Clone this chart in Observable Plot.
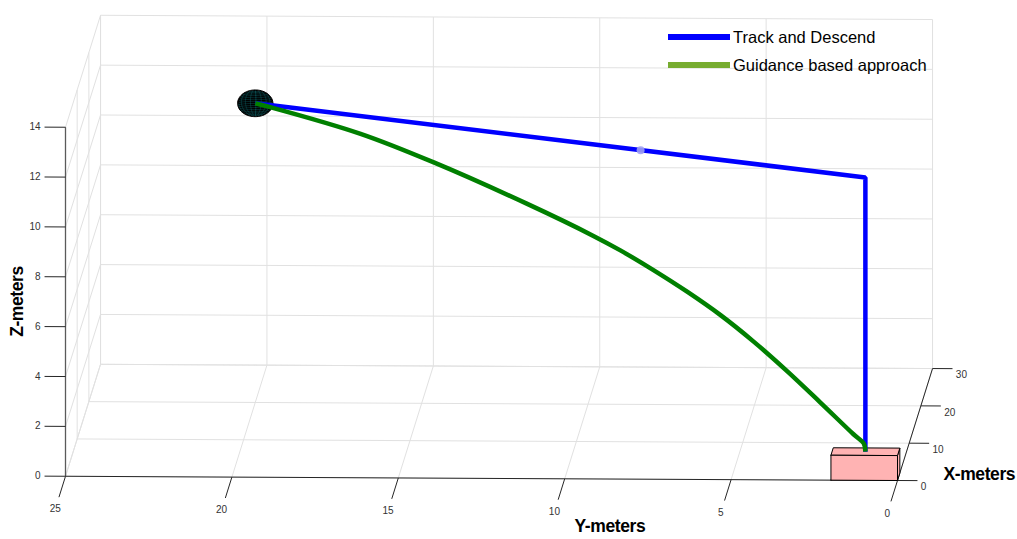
<!DOCTYPE html>
<html>
<head>
<meta charset="utf-8">
<script src="https://cdn.jsdelivr.net/npm/d3@7"></script>
<script src="https://cdn.jsdelivr.net/npm/@observablehq/plot@0.6"></script>
<style>
  html, body { margin: 0; padding: 0; background: #fff; }
  #chart { position: relative; width: 1017px; height: 539px;
           font-family: "Liberation Sans", Arial, Helvetica, sans-serif; }
  .legend { position: absolute; left: 668px; top: 23px; }
  .legend .row { display: flex; align-items: center; height: 28px; }
  .legend .sw { width: 62px; height: 5.5px; margin-right: 3px; }
  .legend .lb { font-size: 16.5px; line-height: 20px; color: #000; white-space: nowrap; }
</style>
</head>
<body>
<div id="chart"></div>
<script>
// ---------------- data (metres) ----------------
const yTicks = [0, 5, 10, 15, 20, 25];
const xTicks = [0, 10, 20, 30];
const zTicks = [0, 2, 4, 6, 8, 10, 12, 14];

const targetPos = [20, 20, 12];          // tracked target (sphere centre)
const dronePos  = [8, 8, 12];            // marker on the track path

// Track and Descend: fly level to above the pad, then drop vertically
const trackX = [20, 1, 1];
const trackY = [20, 1, 1];
const trackZ = [12, 12, 1];

// Guidance based approach: curved descent onto the pad
const guideX = [20, 19.53, 16.72, 14.44, 11.53, 9.47, 8.63, 7.6, 6.54, 5.51, 4.48, 3.43, 2.4, 1.37, 1.05, 1];
const guideY = [20, 19.53, 16.72, 14.44, 11.53, 9.47, 8.63, 7.6, 6.54, 5.51, 4.48, 3.43, 2.4, 1.37, 1.05, 1];
const guideZ = [12, 11.92, 11.29, 10.5, 9.29, 8.33, 7.88, 7.25, 6.54, 5.77, 4.87, 3.84, 2.75, 1.64, 1.32, 1];

// landing pad box extents
const padX = [0, 2];
const padY = [0, 2];
const padZ = [0, 1];

const seriesNames = ["Track and Descend", "Guidance based approach"];
const seriesColors = ["#0000ff", "#77ac30"];

// ---------------- view ----------------
// axonometric view: plane coordinates (u, v) from world (X, Y, Z)
const proj = { u: [0.0351, -1, 0], v: [0.1497, 0.0068, 1] };
const U = (X, Y, Z) => proj.u[0] * X + proj.u[1] * Y + proj.u[2] * Z;
const V = (X, Y, Z) => proj.v[0] * X + proj.v[1] * Y + proj.v[2] * Z;
const pt = (X, Y, Z, extra = {}) => ({ u: U(X, Y, Z), v: V(X, Y, Z), ...extra });
const seg = (a, b, extra = {}) => ({ u1: U(...a), v1: V(...a), u2: U(...b), v2: V(...b), ...extra });

const W = 1017, H = 539;
const pxU = 33.28, pxV = 24.93, originX = 897, originY = 480;
const uDomain = [-originX / pxU, (W - originX) / pxU];
const vDomain = [-(H - originY) / pxV, originY / pxV];

const xMax = d3.max(xTicks), yMax = d3.max(yTicks), zMax = d3.max(zTicks);

// ---------------- grid on back wall, side wall and floor ----------------
const grid = [];
for (const y of yTicks) grid.push(seg([xMax, y, 0], [xMax, y, zMax]));
for (const z of zTicks) grid.push(seg([xMax, 0, z], [xMax, yMax, z]));
for (const z of zTicks) grid.push(seg([0, yMax, z], [xMax, yMax, z]));
for (const x of xTicks) grid.push(seg([x, yMax, 0], [x, yMax, zMax]));
for (const y of yTicks) grid.push(seg([0, y, 0], [xMax, y, 0]));
for (const x of xTicks) grid.push(seg([x, 0, 0], [x, yMax, 0]));

// ---------------- axes ----------------
const axes = [
  seg([0, yMax, 0], [0, 0, 0]),      // Y axis
  seg([0, 0, 0], [xMax, 0, 0]),      // X axis
];
const zAxis = [seg([0, yMax, 0], [0, yMax, zMax])];
const yTickLen = 5.6, xTickLen = 0.6, zTickLen = 0.63;
const tickSegs = [
  ...yTicks.map(y => seg([0, y, 0], [-yTickLen, y, 0])),
  ...xTicks.map(x => seg([x, 0, 0], [x, -xTickLen, 0])),
  ...zTicks.map(z => seg([0, yMax, z], [0, yMax + zTickLen, z])),
];
const yLabels = yTicks.map(y => pt(-8.8, y, 0, { t: String(y) }));
const xLabels = xTicks.map(x => pt(x, -0.7, 0, { t: String(x) }));
const zLabels = zTicks.map(z => pt(0, yMax + 0.75, z, { t: String(z) }));

// ---------------- paths ----------------
const track = trackX.map((x, i) => pt(x, trackY[i], trackZ[i]));
const guide = guideX.map((x, i) => pt(x, guideY[i], guideZ[i]));

// ---------------- landing pad faces ----------------
const [x0, x1] = padX, [y0, y1] = padY, [z0, z1] = padZ;
const faces = [
  { id: "side",  c: [[x0, y0, z0], [x1, y0, z0], [x1, y0, z1], [x0, y0, z1]] },
  { id: "top",   c: [[x0, y1, z1], [x0, y0, z1], [x1, y0, z1], [x1, y1, z1]] },
  { id: "front", c: [[x0, y1, z0], [x0, y0, z0], [x0, y0, z1], [x0, y1, z1]] },
];
const padPts = faces.flatMap(f => [...f.c, f.c[0]].map(c => pt(...c, { id: f.id })));

// ---------------- target sphere ----------------
const R = 0.53;
const [cx, cy, cz] = targetPos;
const au = Math.hypot(...proj.u), bv = Math.hypot(...proj.v);
const cu = U(cx, cy, cz), cv = V(cx, cy, cz);
const outline = d3.range(0, 73).map(i => {
  const t = (i / 72) * 2 * Math.PI;
  return { u: cu + R * au * Math.cos(t), v: cv + R * bv * Math.sin(t) };
});
// viewing direction (towards the viewer) = u-row x v-row
const vd = [
  proj.u[1] * proj.v[2] - proj.u[2] * proj.v[1],
  proj.u[2] * proj.v[0] - proj.u[0] * proj.v[2],
  proj.u[0] * proj.v[1] - proj.u[1] * proj.v[0],
].map(d => -d);
const meshPt = (th, ph, id) => {
  const n = [Math.cos(ph) * Math.cos(th), Math.cos(ph) * Math.sin(th), Math.sin(ph)];
  const vis = n[0] * vd[0] + n[1] * vd[1] + n[2] * vd[2] > 0.35;
  const p = [cx + R * n[0], cy + R * n[1], cz + R * n[2]];
  return vis ? pt(...p, { id }) : { u: NaN, v: NaN, id };
};
const mesh = [];
const nDiv = 20;
for (let k = 0; k < nDiv; k++) {
  const th = (2 * Math.PI * k) / nDiv;
  for (let j = 0; j <= 30; j++) mesh.push(meshPt(th, -Math.PI / 2 + (Math.PI * j) / 30, "m" + k));
}
for (let j = 1; j < nDiv; j++) {
  const ph = -Math.PI / 2 + (Math.PI * j) / nDiv;
  for (let k = 0; k <= 80; k++) mesh.push(meshPt((2 * Math.PI * k) / 80, ph, "p" + j));
}

// ---------------- axis titles ----------------
const yTitle = [pt(-12.6, 8.2, 0, { t: "Y-meters" })];
const xTitle = [pt(2, -1.31, -0.05, { t: "X-meters" })];
const zTitle = [pt(0, 26.44, 7.0, { t: "Z-meters" })];

const font = '"Liberation Sans", Arial, Helvetica, sans-serif';
const titleStyle = { x: "u", y: "v", text: "t", fontSize: 17.5, fontWeight: "bold", fill: "#000" };

const chart = Plot.plot({
  width: W,
  height: H,
  margin: 0,
  x: { domain: uDomain, range: [0, W], axis: null },
  y: { domain: vDomain, range: [H, 0], axis: null },
  style: { fontFamily: font, background: "#fff" },
  marks: [
    Plot.link(grid, { x1: "u1", y1: "v1", x2: "u2", y2: "v2", stroke: "#e1e1e1", strokeWidth: 1 }),
    Plot.link(zAxis, { x1: "u1", y1: "v1", x2: "u2", y2: "v2", stroke: "#5a5a5a", strokeWidth: 1.3 }),
    Plot.link(axes, { x1: "u1", y1: "v1", x2: "u2", y2: "v2", stroke: "#262626", strokeWidth: 1 }),
    Plot.link(tickSegs, { x1: "u1", y1: "v1", x2: "u2", y2: "v2", stroke: "#262626", strokeWidth: 1 }),
    Plot.text(yLabels, { x: "u", y: "v", text: "t", fontSize: 10, fill: "#333", textAnchor: "middle" }),
    Plot.text(xLabels, { x: "u", y: "v", text: "t", fontSize: 10, fill: "#333", textAnchor: "start", dy: 6.5 }),
    Plot.text(zLabels, { x: "u", y: "v", text: "t", fontSize: 10, fill: "#333", textAnchor: "end" }),
    // landing pad
    Plot.line(padPts, { x: "u", y: "v", z: "id", fill: "#ffb3b3", stroke: "#000", strokeWidth: 1, strokeLinejoin: "miter" }),
    // target sphere
    Plot.line(outline, { x: "u", y: "v", fill: "#000", stroke: "#000", strokeWidth: 1 }),
    Plot.line(mesh, { x: "u", y: "v", z: "id", stroke: "#137a82", strokeWidth: 0.6, strokeOpacity: 0.55 }),
    // trajectories
    Plot.line(track, { x: "u", y: "v", stroke: seriesColors[0], strokeWidth: 4.5, strokeLinejoin: "miter", strokeLinecap: "butt" }),
    Plot.line(guide, { x: "u", y: "v", stroke: "#008000", strokeWidth: 4.5, strokeLinecap: "butt", curve: "catmull-rom" }),
    Plot.dot([pt(...dronePos)], { x: "u", y: "v", r: 4, fill: "#a0a0f2", fillOpacity: 0.9, stroke: "none" }),
    // axis titles
    Plot.text(yTitle, titleStyle),
    Plot.text(xTitle, { ...titleStyle, textAnchor: "start" }),
    Plot.text(zTitle, { ...titleStyle, rotate: -90 }),
  ],
});

// tighten the bold axis titles a little
d3.select(chart).selectAll("text")
  .filter(function () { return /-meters$/.test(this.textContent); })
  .attr("letter-spacing", "-0.4px");

const root = document.getElementById("chart");
root.appendChild(chart);

// legend overlay
const legend = document.createElement("div");
legend.className = "legend";
seriesNames.forEach((name, i) => {
  const row = document.createElement("div");
  row.className = "row";
  const sw = document.createElement("span");
  sw.className = "sw";
  sw.style.background = seriesColors[i];
  const lb = document.createElement("span");
  lb.className = "lb";
  lb.textContent = name;
  row.append(sw, lb);
  legend.appendChild(row);
});
root.appendChild(legend);
</script>
</body>
</html>
